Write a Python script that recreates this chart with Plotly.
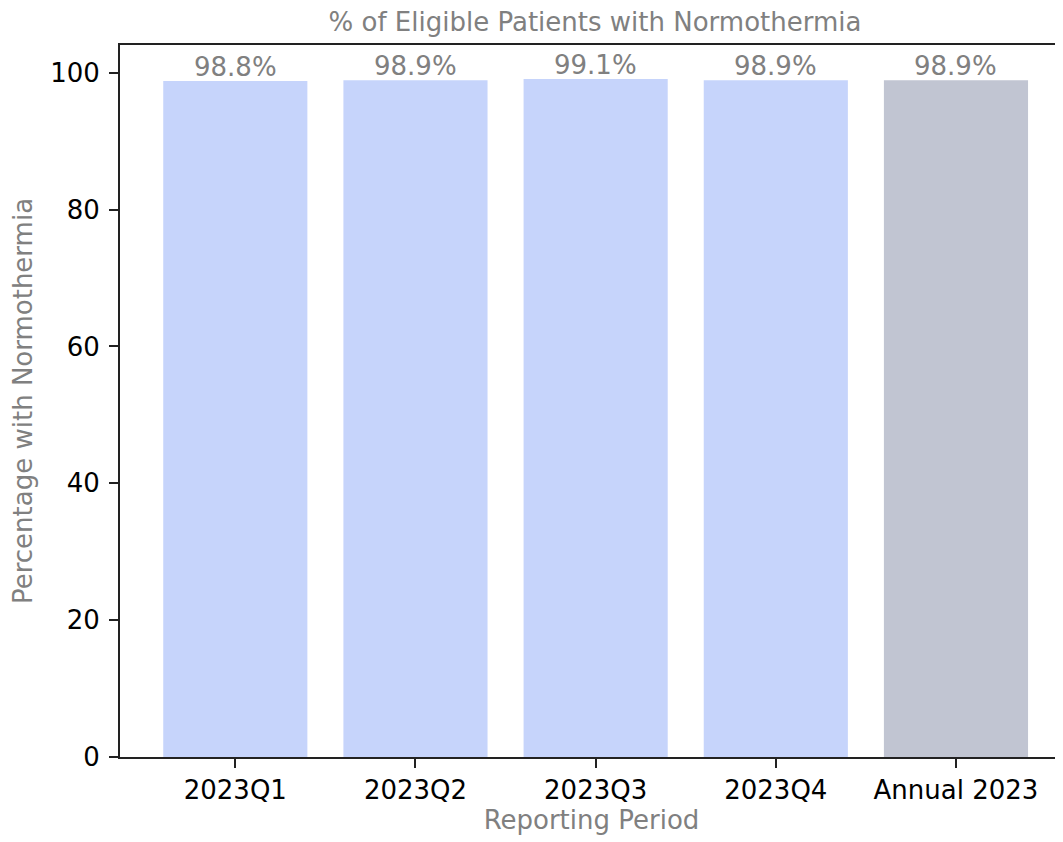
import plotly.graph_objects as go

categories = ["2023Q1", "2023Q2", "2023Q3", "2023Q4", "Annual 2023"]
values = [98.8, 98.9, 99.1, 98.9, 98.9]
labels = ["98.8%", "98.9%", "99.1%", "98.9%", "98.9%"]
bar_colors = ["#c6d4fb", "#c6d4fb", "#c6d4fb", "#c6d4fb", "#c1c5d2"]
y_ticks = [0, 20, 40, 60, 80, 100]

FONT = "DejaVu Sans"
W, H = 1055, 834  # page body has an 8px margin

xs = list(range(len(categories)))

fig = go.Figure(
    go.Bar(
        x=xs,
        y=values,
        width=0.8,
        marker=dict(color=bar_colors, line=dict(width=0)),
        cliponaxis=False,
    )
)

for xi, v, lab in zip(xs, values, labels):
    fig.add_annotation(
        x=xi, y=v, text=lab, showarrow=False,
        xanchor="center", yanchor="bottom", yshift=-3,
        font=dict(family=FONT, size=26, color="#808080"),
    )

fig.update_layout(
    width=W,
    height=H,
    margin=dict(l=112, r=0, t=37, b=85, autoexpand=False),
    plot_bgcolor="white",
    paper_bgcolor="white",
    showlegend=False,
    font=dict(family=FONT, size=26, color="black"),
    title=dict(
        text="% of Eligible Patients with Normothermia",
        font=dict(family=FONT, size=26, color="#808080"),
        x=587 / W,
        xanchor="center",
        xref="container",
        y=1 - 14 / H,
        yanchor="middle",
        yref="container",
    ),
    xaxis=dict(
        range=[-0.64, 4.594],
        tickmode="array",
        tickvals=xs,
        ticktext=categories,
        ticks="outside",
        ticklen=9,
        tickwidth=2,
        tickcolor="#222",
        showline=True,
        linecolor="#222",
        linewidth=2,
        mirror=True,
        showgrid=False,
        zeroline=False,
        tickfont=dict(family=FONT, size=26, color="black"),
        title=dict(
            text="Reporting Period",
            font=dict(family=FONT, size=26, color="#808080"),
            standoff=4,
        ),
        automargin=False,
    ),
    yaxis=dict(
        range=[0, 104.06],
        tickmode="array",
        tickvals=y_ticks,
        ticks="outside",
        ticklen=9,
        tickwidth=2,
        tickcolor="#222",
        showline=True,
        linecolor="#222",
        linewidth=2,
        mirror=False,
        showgrid=False,
        zeroline=False,
        ticklabelstandoff=4,
        tickfont=dict(family=FONT, size=26, color="black"),
        title=dict(
            text="Percentage with Normothermia",
            font=dict(family=FONT, size=26, color="#808080"),
            standoff=14,
        ),
        automargin=False,
    ),
)

fig.write_html("out.html")
